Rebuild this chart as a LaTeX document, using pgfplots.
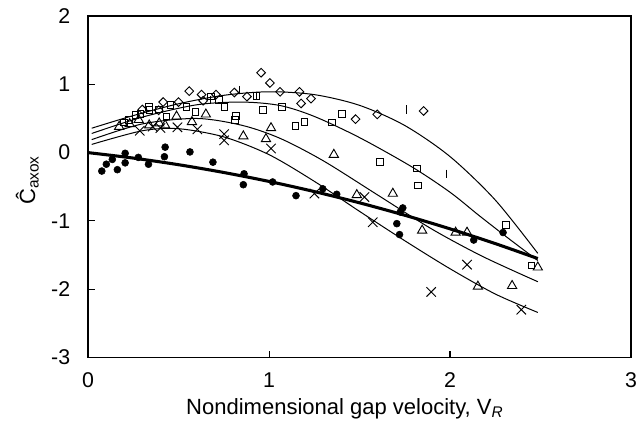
\documentclass[border=0pt]{standalone}
\usepackage{fontspec}
\setmainfont{Liberation Sans}
\usepackage{pgfplots}
\pgfplotsset{compat=1.18}
\usetikzlibrary{calc}
\begin{document}
\fontsize{16}{19}\selectfont
\begin{tikzpicture}
\begin{axis}[
  scale only axis, width=407pt, height=256pt,
  xmin=0, xmax=3, ymin=-3, ymax=2,
  xtick={0,1,2,3}, xticklabels={0,1,2,3},
  ytick={-3,-2,-1,0,1,2}, yticklabels={-3,-2,-1,0,1,2},
  tick pos=left, tick align=inside,
  major tick length=5pt,
  axis line style={line width=1pt},
  tick style={line width=0.8pt, black},
  /pgf/number format/assume math mode=true,
  every tick label/.append style={font=\fontsize{16}{19}\selectfont},
  yticklabel style={xshift=-7.9pt},
  xticklabel style={yshift=-5.9pt},
  xlabel={Nondimensional gap velocity, V\textsubscript{\textit{R}}},
  ylabel={\^{C}\textsubscript{axox}},
  xlabel style={at={(axis description cs:0.473,0)}, anchor=north, yshift=-25.2pt, font=\fontsize{16.5}{19.5}\selectfont},
  ylabel style={at={(axis description cs:-0.112,0.519)}, anchor=center, font=\fontsize{16.5}{19.5}\selectfont},
  clip=false,
]
\coordinate (bl) at (rel axis cs:0,0);
\coordinate (tr) at (rel axis cs:1,1);
% fitted curves
\addplot[black, line width=0.75pt, smooth] coordinates {
(0.02,0.357)(0.25,0.542)(0.5,0.715)(0.75,0.839)(1.0,0.891)(1.25,0.849)(1.5,0.692)(1.75,0.397)(2.0,-0.058)(2.25,-0.694)(2.485,-1.475)};
\addplot[black, line width=0.75pt, smooth] coordinates {
(0.02,0.28)(0.3,0.52)(0.6,0.70)(0.85,0.74)(1.06,0.69)(1.25,0.53)(1.5,0.22)(1.79,-0.21)(2.0,-0.58)(2.16,-0.92)(2.32,-1.25)(2.485,-1.58)};
\addplot[black, line width=0.75pt, smooth] coordinates {
(0.02,0.19)(0.3,0.42)(0.6,0.50)(0.85,0.40)(1.06,0.21)(1.3,-0.12)(1.6,-0.62)(1.9,-1.12)(2.18,-1.52)(2.485,-1.89)};
\addplot[black, line width=0.75pt, smooth] coordinates {
(0.02,0.12)(0.3,0.32)(0.5,0.35)(0.75,0.23)(1.0,-0.03)(1.25,-0.42)(1.5,-0.86)(1.75,-1.29)(2.0,-1.70)(2.25,-2.07)(2.485,-2.34)};
\addplot[black, line width=2.3pt, smooth] coordinates {
(0,0)(0.25,-0.080)(0.5,-0.177)(0.75,-0.291)(1.0,-0.422)(1.25,-0.570)(1.5,-0.735)(1.75,-0.917)(2.0,-1.116)(2.25,-1.332)(2.485,-1.551)};
% diamonds
\addplot[only marks, mark=square, mark size=2.3pt, mark options={rotate=45, line width=0.7pt, fill=white, draw=black}] coordinates {
(0.30,0.63)(0.39,0.62)(0.415,0.74)(0.50,0.74)(0.559,0.90)(0.627,0.85)(0.636,0.76)(0.707,0.85)(0.808,0.88)(0.878,0.82)(0.956,1.17)(1.005,1.02)(1.061,0.89)(1.168,0.89)(1.177,0.72)(1.232,0.79)(1.478,0.49)(1.598,0.56)(1.854,0.61)};
% squares
\addplot[only marks, mark=square, mark size=2.5pt, mark options={line width=0.7pt, fill=white, draw=black}] coordinates {
(0.197,0.44)(0.225,0.48)(0.262,0.55)(0.290,0.57)(0.336,0.67)(0.339,0.62)(0.391,0.63)(0.433,0.53)(0.456,0.70)(0.544,0.67)(0.594,0.60)(0.679,0.82)(0.725,0.77)(0.753,0.67)(0.813,0.48)(0.817,0.54)(0.931,0.83)(0.965,0.62)(1.071,0.67)(1.146,0.39)(1.195,0.45)(1.346,0.44)(1.404,0.57)(1.614,-0.14)(1.817,-0.23)(1.822,-0.48)(2.308,-1.06)(2.450,-1.65)};
% triangles
\addplot[only marks, mark=triangle, mark size=4pt, mark options={line width=0.7pt, fill=white, draw=black}] coordinates {
(0.172,0.38)(0.23,0.42)(0.28,0.48)(0.338,0.40)(0.393,0.43)(0.426,0.40)(0.489,0.53)(0.574,0.45)(0.651,0.56)(0.858,0.24)(0.983,0.20)(1.011,0.36)(1.358,-0.03)(1.485,-0.62)(1.684,-0.60)(1.846,-1.14)(2.031,-1.17)(2.094,-1.17)(2.154,-1.96)(2.343,-1.95)(2.485,-1.68)};
% crosses
\addplot[only marks, mark=x, mark size=5pt, mark options={line width=0.7pt, draw=black}] coordinates {
(0.286,0.32)(0.357,0.38)(0.40,0.36)(0.494,0.37)(0.604,0.34)(0.752,0.27)(0.752,0.18)(1.011,0.06)(1.251,-0.60)(1.527,-0.65)(1.573,-1.02)(1.896,-2.04)(2.094,-1.64)(2.394,-2.30)};
% bars
\addplot[only marks, mark=|, mark size=3.1pt, mark options={line width=0.8pt, draw=black}] coordinates {
(0.677,0.77)(0.839,0.915)(0.93,0.83)(1.758,0.63)(1.979,-0.31)};
% filled circles
\addplot[only marks, mark=*, mark size=2.6pt, mark options={fill=black, draw=black}] coordinates {
(0.076,-0.27)(0.101,-0.17)(0.134,-0.10)(0.162,-0.25)(0.205,-0.01)(0.205,-0.15)(0.278,-0.07)(0.334,-0.17)(0.422,-0.06)(0.426,0.08)(0.563,0.01)(0.690,-0.14)(0.862,-0.31)(0.858,-0.47)(1.020,-0.43)(1.149,-0.63)(1.297,-0.53)(1.374,-0.61)(1.739,-0.81)(1.725,-0.87)(1.706,-1.04)(1.721,-1.20)(2.131,-1.28)(2.293,-1.17)};
\end{axis}
\pgfresetboundingbox
\path[use as bounding box] ($(bl)+(-66pt,-55.5pt)$) rectangle ($(tr)+(4.5pt,12pt)$);
\end{tikzpicture}
\end{document}
